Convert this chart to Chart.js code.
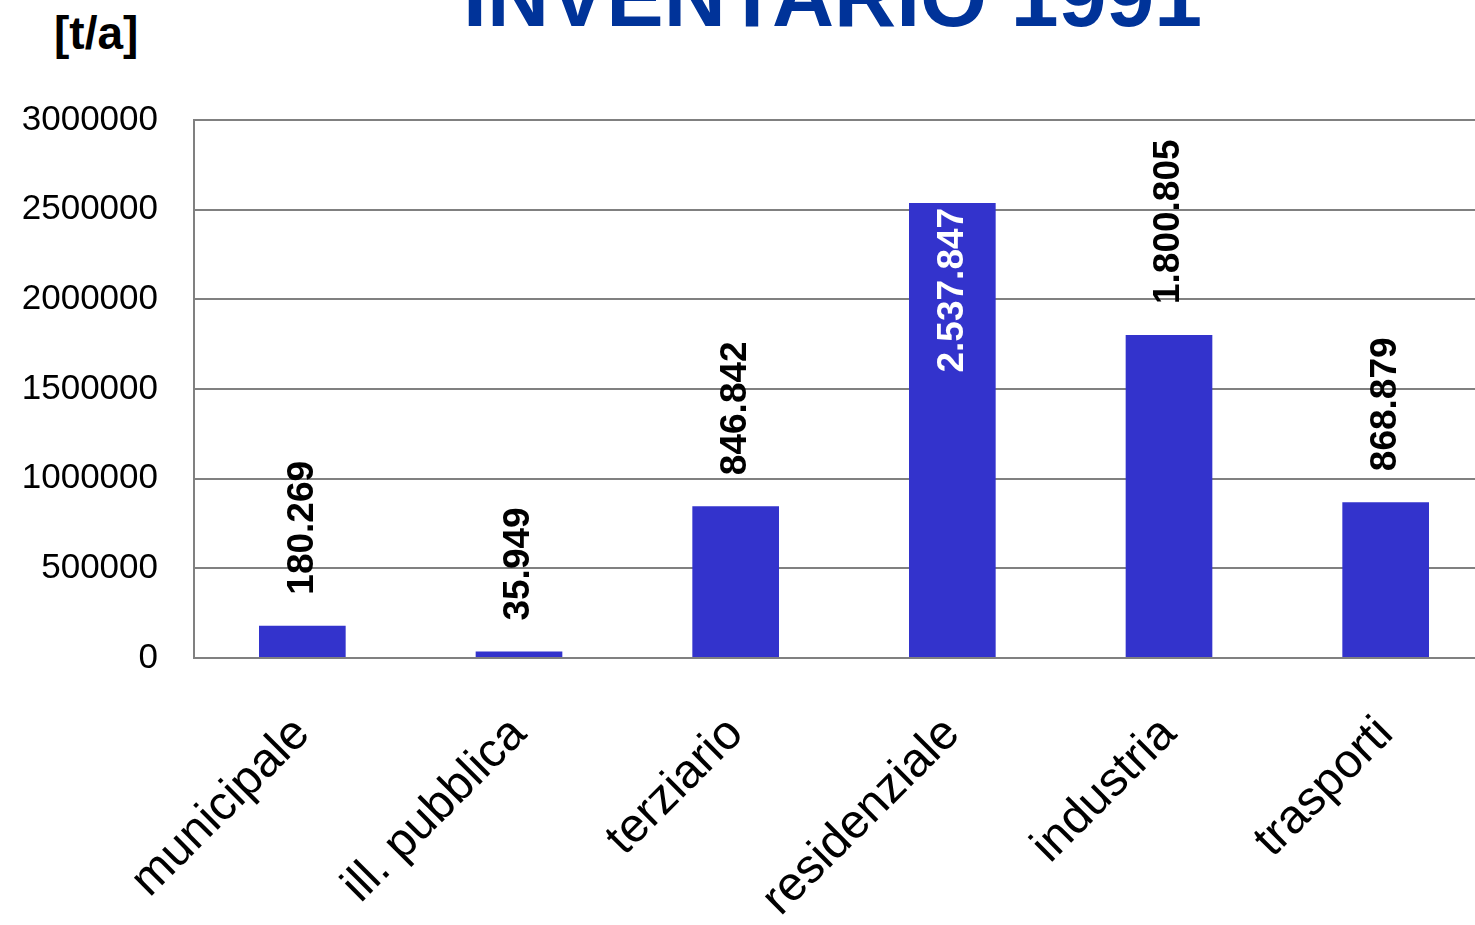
<!DOCTYPE html>
<html lang="it">
  <head>
    <meta charset="UTF-8" />
    <title>Inventario 1991</title>
    <script src="https://cdn.jsdelivr.net/npm/chart.js@4.4.1/dist/chart.umd.min.js"></script>
    <style>
      body { margin: 0; overflow: hidden; background: #fff; width: 1475px; height: 925px; position: relative; }
      #title {
        position: absolute; left: 463px; top: -47px;
        font: bold 86px "Liberation Sans", Arial, sans-serif; line-height: 1;
        color: #003399; white-space: nowrap;
      }
      #unit {
        position: absolute; left: 54px; top: 10px;
        font: bold 46px "Liberation Sans", Arial, sans-serif; line-height: 1;
        color: #000; white-space: nowrap;
      }
      #chart { position: absolute; left: 0; top: 0; }
    </style>
  </head>
  <body>
    <div id="title">INVENTARIO 1991</div>
    <div id="unit">[t/a]</div>
    <canvas id="chart" width="1500" height="925"></canvas>
    <script>
    // settori e emissioni (t/a)
    const categories = ['municipale', 'ill. pubblica', 'terziario', 'residenziale', 'industria', 'trasporti'];
    const emissions = [180269, 35949, 846842, 2537847, 1800805, 868879];
    const yTicks = [0, 500000, 1000000, 1500000, 2000000, 2500000, 3000000];

    // 2537847 -> "2.537.847"
    function fmt(v) {
      return String(v).replace(/\B(?=(\d{3})+(?!\d))/g, '.');
    }

    // etichette verticali sopra le barre (dentro se non c'e' spazio)
    const barLabels = {
      id: 'barLabels',
      afterDatasetsDraw(chart) {
        const ctx = chart.ctx;
        const meta = chart.getDatasetMeta(0);
        const top = chart.chartArea.top;
        ctx.save();
        ctx.font = 'bold 37px "Liberation Sans", Arial, sans-serif';
        ctx.textBaseline = 'middle';
        meta.data.forEach((bar, i) => {
          const txt = fmt(emissions[i]);
          const w = ctx.measureText(txt).width;
          const gap = 31;
          ctx.save();
          ctx.translate(bar.x, bar.y);
          ctx.rotate(-Math.PI / 2);
          if (bar.y - gap - w < top) {
            ctx.fillStyle = '#fff';
            ctx.textAlign = 'right';
            ctx.fillText(txt, -5, 0);
          } else {
            ctx.fillStyle = '#000';
            ctx.textAlign = 'left';
            ctx.fillText(txt, gap, 0);
          }
          ctx.restore();
        });
        ctx.restore();
      }
    };

    const ctx = document.getElementById('chart').getContext('2d');
    new Chart(ctx, {
      type: 'bar',
      data: {
        labels: categories,
        datasets: [{
          data: emissions,
          backgroundColor: '#3333cc',
          barPercentage: 0.4,
          categoryPercentage: 1
        }]
      },
      options: {
        responsive: false,
        animation: false,
        events: [],
        layout: { padding: { left: 0, right: 6, top: 120, bottom: 0 } },
        plugins: { legend: { display: false }, tooltip: { enabled: false } },
        scales: {
          x: {
            grid: { display: false },
            border: { display: true, color: '#808080', width: 2 },
            ticks: {
              autoSkip: false,
              minRotation: 45,
              maxRotation: 45,
              padding: 40,
              color: '#000',
              font: { family: '"Liberation Sans", Arial, sans-serif', size: 48 }
            },
            afterFit(scale) { scale.height = 267; }
          },
          y: {
            min: 0,
            max: 3000000,
            afterBuildTicks(scale) { scale.ticks = yTicks.map(v => ({ value: v })); },
            grid: { color: '#808080', lineWidth: 2, drawTicks: false },
            border: { display: true, color: '#808080', width: 2 },
            ticks: {
              padding: 36,
              color: '#000',
              font: { family: '"Liberation Sans", Arial, sans-serif', size: 35 },
              callback: v => String(v)
            },
            afterFit(scale) { scale.width = 194; }
          }
        }
      },
      plugins: [barLabels]
    });
    </script>
  </body>
</html>
